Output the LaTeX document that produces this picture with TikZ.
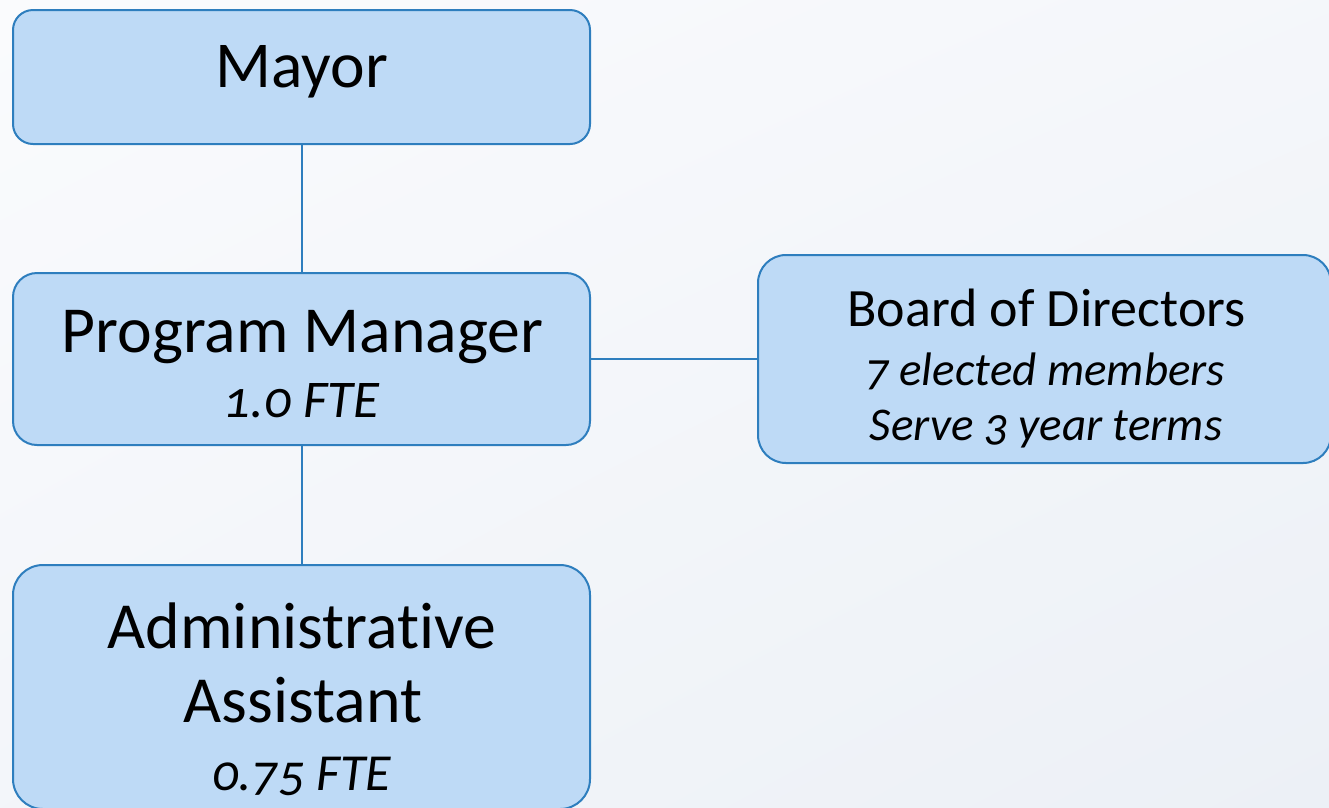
\documentclass[tikz,border=0pt]{standalone}
\usepackage{fontspec}
\setmainfont{Carlito}[Numbers=OldStyle,Ligatures=NoCommon]
\usetikzlibrary{shadings}
\begin{document}
\begin{tikzpicture}[x=1pt,y=-1pt,
  orgbox/.style={draw=boxline, fill=boxfill, line width=2pt, inner sep=0pt},
  conn/.style={draw=boxline, line width=2pt},
  lbl/.style={anchor=base, inner sep=0pt, text=black}]
\definecolor{boxfill}{RGB}{190,218,246}
\definecolor{boxline}{RGB}{46,126,190}
\definecolor{bgA}{RGB}{250,251,253}
\definecolor{bgB}{RGB}{236,240,246}
\useasboundingbox (0,0) rectangle (1329,807);
\shade[upper left=bgA, upper right=bgA!60!bgB, lower left=bgA!50!bgB, lower right=bgB] (0,0) rectangle (1329,807);
\begin{scope}
\clip (0,0) rectangle (1329,807);
\node[orgbox, rounded corners=20pt, minimum width=577pt, minimum height=134pt] (mayor) at (301.5,77) {};
\node[orgbox, rounded corners=24pt, minimum width=577pt, minimum height=172pt] (pm) at (301.5,359) {};
\node[orgbox, rounded corners=30pt, minimum width=577pt, minimum height=244pt] (admin) at (301.5,687) {};
\node[orgbox, rounded corners=28pt, minimum width=573pt, minimum height=208pt] (board) at (1044.5,359) {};
\end{scope}
\draw[conn] (mayor.south) -- (pm.north);
\draw[conn] (pm.south) -- (admin.north);
\draw[conn] (pm.east) -- (board.west);
\node[lbl, font=\fontsize{65.5}{70}\selectfont] (tmayor) at (302,87) {Mayor};
\node[lbl, font=\fontsize{65.7}{70}\selectfont] (tpm1) at (302.5,352) {Program Manager};
\node[lbl, font=\fontsize{53}{56}\selectfont\itshape] (tpm2) at (301.5,417) {1.0 FTE};
\node[lbl, font=\fontsize{54}{56}\selectfont] (tb1) at (1046.5,326) {Board of Directors};
\node[lbl, font=\fontsize{47}{50}\selectfont\itshape] (tb2) at (1045,385) {7 elected members};
\node[lbl, font=\fontsize{47}{50}\selectfont\itshape] (tb3) at (1046,440) {Serve 3 year terms};
\node[lbl, font=\fontsize{65.8}{70}\selectfont] (ta1) at (302,648) {Administrative};
\node[lbl, font=\fontsize{65.8}{70}\selectfont] (ta2) at (303,722) {Assistant};
\node[lbl, font=\fontsize{52}{56}\selectfont\itshape] (ta3) at (301.5,790) {0.75 FTE};
\end{tikzpicture}
\end{document}
